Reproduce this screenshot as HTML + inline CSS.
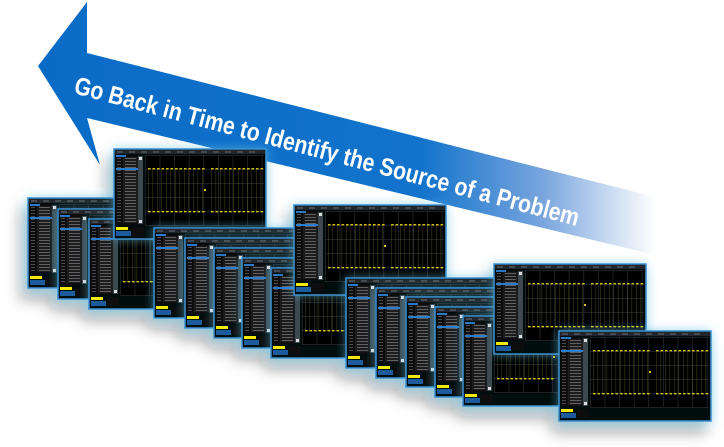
<!DOCTYPE html>
<html><head><meta charset="utf-8"><style>
html,body{margin:0;padding:0;background:#fff;width:724px;height:447px;overflow:hidden}
svg{display:block}
</style></head><body>
<svg id="s" width="724" height="447" viewBox="0 0 724 447" xmlns="http://www.w3.org/2000/svg">
<defs>
<linearGradient id="ag" gradientUnits="userSpaceOnUse" x1="40" y1="0" x2="655" y2="0">
<stop offset="0" stop-color="#0a6bc6"/>
<stop offset="0.62" stop-color="#1273cc"/>
<stop offset="0.82" stop-color="#7aa6de"/>
<stop offset="1" stop-color="#ffffff"/>
</linearGradient>
<filter id="sh" x="-20%" y="-20%" width="140%" height="150%">
<feDropShadow dx="-6" dy="10" stdDeviation="7" flood-color="#000" flood-opacity="0.35"/>
</filter>
<filter id="gl" x="-20%" y="-30%" width="140%" height="160%">
<feDropShadow dx="0" dy="0" stdDeviation="5" flood-color="#5ec8ee" flood-opacity="0.55"/>
</filter>
</defs>
<polygon points="38,66 87,2 87,53 655,197 655,255 87,118 100,165" fill="url(#ag)"/>
<text x="73" y="93" transform="rotate(14.8 73 93)" font-family="'Liberation Sans Narrow','Liberation Sans',sans-serif" font-weight="bold" font-size="25" fill="#fff" textLength="521" lengthAdjust="spacingAndGlyphs">Go Back in Time to Identify the Source of a Problem</text>
<g id="scr" filter="url(#sh)"></g>
</svg>
<script>
var NS="http://www.w3.org/2000/svg",g=document.getElementById('scr');
function r(p,x,y,w,h,f,o){var e=document.createElementNS(NS,'rect');e.setAttribute('x',x);e.setAttribute('y',y);e.setAttribute('width',w);e.setAttribute('height',h);e.setAttribute('fill',f);if(o!=null)e.setAttribute('opacity',o);p.appendChild(e);return e;}
function screen(x,y){
 var w=152,h=90;
 var s=document.createElementNS(NS,'g');s.setAttribute('filter','url(#gl)');g.appendChild(s);
 var b=r(s,x,y,w,h,'#060809');b.setAttribute('stroke','#3d92d4');b.setAttribute('stroke-width','1.5');
 r(s,x+1,y+1,w-2,4,'#24282c');
 for(var i=0;i<12;i++)r(s,x+3+i*12,y+2.5,6,1,'#8a8f95',0.7);
 r(s,x+2,y+6,23,70,'#0c0d0e');
 r(s,x+9,y+8,15,66,'#1c1d1f');
 for(var j=0;j<22;j++){r(s,x+3,y+9+j*3,4,1,'#888',0.5);r(s,x+11,y+9+j*3,11,1,'#999',0.55);}
 r(s,x+2,y+6,10,2,'#2a78c8');
 r(s,x+2,y+19,23,2,'#2c7ed0');
 r(s,x+24,y+7,5,68,'#3d4a50');
 r(s,x+25,y+8,3,3,'#ddd');r(s,x+25,y+71,3,3,'#ddd');
 r(s,x+31,y+6,w-33,70,'#020303');
 for(var k=0;k<=8;k++)r(s,x+31+k*14.6,y+6,0.7,70,'#2a2c2e');
 for(var m=0;m<=5;m++)r(s,x+31,y+6+m*14,w-33,0.7,'#2a2c2e');
 for(var n=0;n<26;n++){var xx=x+34+n*4.5; if(n==13)continue;
  r(s,xx,y+20,0.6,42,'#6a6220',0.6);
  r(s,xx,y+19,2.6,1.4,'#d8c418');r(s,xx,y+62,2.6,1.4,'#d8c418');}
 r(s,x+90,y+40,2,2,'#d8c418');
 r(s,x+2,y+78,12,3,'#f2ea10');
 r(s,x+2,y+82,15,5,'#1f5c9c');
 r(s,x+18,y+78,12,9,'#0b0c0d');
}
var P=[[28,198],[58,209],[89,219],[114,149],[154,228],[185,238],[214,248],[242,258],[271,268],[294,205],[346,278],[376,288],[406,297],[435,307],[463,316],[494,264],[559,331]];
P.forEach(function(p){screen(p[0],p[1]);});
</script>
</body></html>
